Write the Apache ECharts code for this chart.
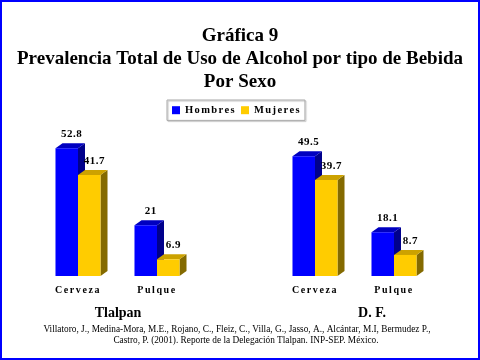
<!DOCTYPE html>
<html>
<head>
<meta charset="utf-8">
<script src="https://cdn.jsdelivr.net/npm/echarts@6/dist/echarts.min.js"></script>
<style>html,body{margin:0;padding:0;background:#fff;}#c{width:480px;height:360px;}</style>
</head>
<body>
<div id="c"></div>
<script>
// ---- data ----
const categories = ['Cerveza', 'Pulque', '', 'Cerveza', 'Pulque'];
const seriesNames = ['Hombres', 'Mujeres'];
const hombres = [[0, 52.8], [1, 21], [3, 49.5], [4, 18.1]];
const mujeres = [[0, 41.7], [1, 6.9], [3, 39.7], [4, 8.7]];
const groupLabels = ['Tlalpan', 'D. F.'];
const titleLines = ['Gráfica 9', 'Prevalencia Total de Uso de Alcohol por tipo de Bebida', 'Por Sexo'];
const footerLines = [
  'Villatoro, J., Medina-Mora, M.E., Rojano, C., Fleiz, C., Villa, G., Jasso, A., Alcántar, M.I, Bermudez P.,',
  'Castro, P. (2001). Reporte de la Delegación Tlalpan. INP-SEP. México.'
];

// letter spacing for the small spaced-out labels
const SPACING = {'10px': '1.6px', '10.5px': '1.4px', '11px': '0.5px'};
function applySpacing(ctx) {
  const m = /(\d+(?:\.\d+)?)px/.exec(ctx.font || '');
  const s = m && SPACING[m[1] + 'px'];
  try { ctx.letterSpacing = s || '0px'; } catch (e) {}
}
const P = CanvasRenderingContext2D.prototype;
const oFill = P.fillText, oMeasure = P.measureText;
P.fillText = function () { applySpacing(this); return oFill.apply(this, arguments); };
P.measureText = function () { applySpacing(this); return oMeasure.apply(this, arguments); };

const FONT = "'Liberation Serif', 'Times New Roman', serif";
const BAR_RATIO = 0.285, DX = 7, DY = 5;

function render3D(side, front, topC, sideC) {
  return function (params, api) {
    const idx = api.value(0), v = api.value(1);
    const top = api.coord([idx, v]);
    const base = api.coord([idx, 0]);
    const w = api.size([1, 0])[0] * BAR_RATIO;
    const x0 = side < 0 ? top[0] - w : top[0];
    const yt = top[1], yb = base[1];
    return {
      type: 'group',
      children: [
        {type: 'polygon', shape: {points: [[x0 + w, yt], [x0 + w + DX, yt - DY], [x0 + w + DX, yb - DY], [x0 + w, yb]]}, style: {fill: sideC}},
        {type: 'polygon', shape: {points: [[x0, yt], [x0 + DX, yt - DY], [x0 + w + DX, yt - DY], [x0 + w, yt]]}, style: {fill: topC}},
        {type: 'rect', shape: {x: x0, y: yt, width: w, height: yb - yt}, style: {fill: front}},
        {type: 'text', x: x0 + w / 2 + DX / 2 + 1.5, y: yt - DY - 3,
          style: {text: String(v), align: 'center', verticalAlign: 'bottom', fill: '#000', font: 'bold 11px ' + FONT}}
      ]
    };
  };
}

const chart = echarts.init(document.getElementById('c'), null, {renderer: 'canvas'});
chart.setOption({
  backgroundColor: '#fff',
  animation: false,
  title: {
    text: titleLines.join('\n'),
    left: 'center', top: 25, padding: 0,
    textStyle: {fontFamily: FONT, fontWeight: 'bold', fontSize: 19, lineHeight: 23, color: '#000'}
  },
  legend: {
    data: seriesNames,
    left: 167, top: 100,
    padding: [4, 4, 4, 5],
    itemGap: 5, itemWidth: 8, itemHeight: 8, icon: 'rect',
    borderColor: '#aaa', borderWidth: 1,
    shadowColor: 'rgba(0,0,0,0.25)', shadowOffsetX: 1, shadowOffsetY: 1, shadowBlur: 1,
    textStyle: {fontFamily: FONT, fontWeight: 'bold', fontSize: 10.5, color: '#000'}
  },
  grid: {left: 38.5, right: 46.5, top: 130.8, bottom: 84},
  xAxis: {
    type: 'category', data: categories,
    axisLine: {show: false}, axisTick: {show: false},
    axisLabel: {interval: 0, margin: 9, fontFamily: FONT, fontWeight: 'bold', fontSize: 10, color: '#000'}
  },
  yAxis: {type: 'value', min: 0, max: 60, show: false, splitLine: {show: false}},
  series: [
    {name: seriesNames[0], type: 'custom', data: hombres, encode: {x: 0, y: 1},
      itemStyle: {color: '#0000FF'}, renderItem: render3D(-1, '#0000FF', '#0000C0', '#00008C')},
    {name: seriesNames[1], type: 'custom', data: mujeres, encode: {x: 0, y: 1},
      itemStyle: {color: '#FFCC00'}, renderItem: render3D(1, '#FFCC00', '#CCA200', '#846A00')}
  ],
  graphic: [
    {type: 'rect', shape: {x: 1, y: 1, width: 478, height: 358}, style: {fill: null, stroke: '#0000FF', lineWidth: 2}, silent: true},
    {type: 'text', x: 118, y: 313, style: {text: groupLabels[0], align: 'center', verticalAlign: 'middle', font: 'bold 14px ' + FONT, fill: '#000'}},
    {type: 'text', x: 372, y: 313, style: {text: groupLabels[1], align: 'center', verticalAlign: 'middle', font: 'bold 14px ' + FONT, fill: '#000'}},
    {type: 'text', x: 237, y: 330, style: {text: footerLines[0], align: 'center', verticalAlign: 'middle', font: '9.3px ' + FONT, fill: '#000'}},
    {type: 'text', x: 246, y: 341, style: {text: footerLines[1], align: 'center', verticalAlign: 'middle', font: '9.3px ' + FONT, fill: '#000'}}
  ]
});
</script>
</body>
</html>
